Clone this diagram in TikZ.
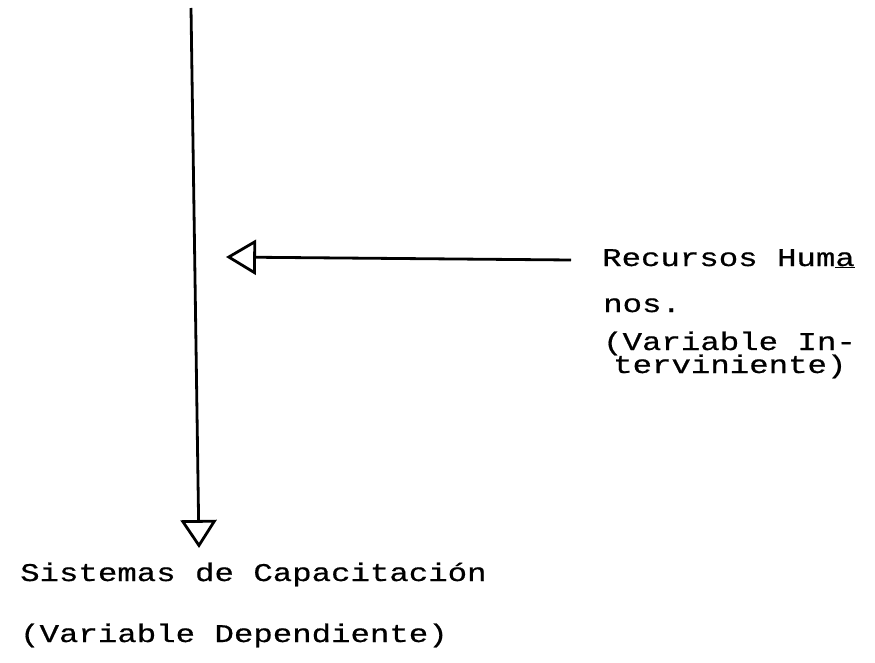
\documentclass[tikz,border=0pt]{standalone}
\usepackage{fontspec}
\usetikzlibrary{arrows.meta}
\newfontfamily\tw[FakeStretch=1.27,FakeBold=0.6]{Liberation Mono}
\begin{document}
\begin{tikzpicture}[x=1pt,y=-1pt,
  lbl/.style={anchor=base west,inner sep=0pt,font=\tw\fontsize{25.5}{25.5}\selectfont},
  conn/.style={line width=2.8pt,-{Triangle[open,length=28pt,width=36pt,line width=2.8pt]}}]
\useasboundingbox (0,0) rectangle (875,663);
\coordinate (top) at (191,8);
\coordinate (tipB) at (199,548);
\coordinate (src) at (571,260);
\coordinate (tipL) at (226,257);
\draw[conn] (top) -- (tipB);
\draw[conn,-{Triangle[open,length=30pt,width=35pt,line width=2.8pt]}] (src) -- (tipL);
\node[lbl] (rh1) at (602,266) {Recursos Hum\underline{a}};
\node[lbl] (rh2) at (603,312) {nos.};
\node[lbl] (rh3) at (603,350) {(Variable In-};
\node[lbl] (rh4) at (613,373) {terviniente)};
\node[lbl] (sc1) at (20,581) {Sistemas de Capacitación};
\node[lbl] (sc2) at (20,642) {(Variable Dependiente)};
\end{tikzpicture}
\end{document}
